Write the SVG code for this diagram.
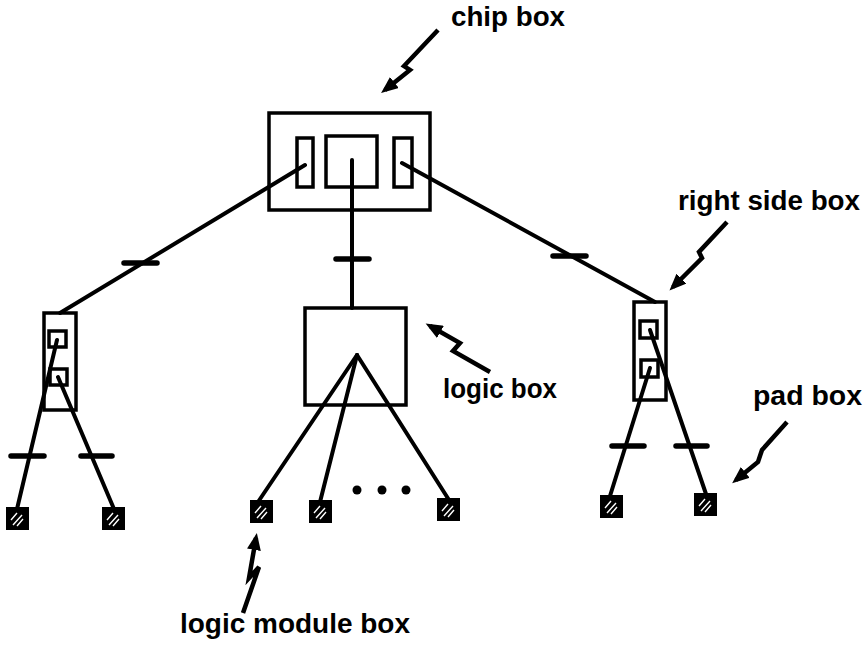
<svg xmlns="http://www.w3.org/2000/svg" width="863" height="649" viewBox="0 0 863 649">
<style>
.box{fill:none;stroke:#000;stroke-width:3.5}
.ln{fill:none;stroke:#000;stroke-width:4;stroke-linecap:round}
.tick{fill:none;stroke:#000;stroke-width:5.5;stroke-linecap:round}
.bolt{fill:none;stroke:#000;stroke-width:4.5;stroke-linejoin:miter}
.lbl{font-family:"Liberation Sans",Arial,sans-serif;font-weight:bold;font-size:27px;fill:#000}
.dot{fill:#000}
</style>
<defs>
<g id="pad">
<rect x="0" y="0" width="23" height="23" fill="#000"/>
<path d="M5,13 L11,6 M7,18 L16,8 M11,19 L17,12" stroke="#fff" stroke-width="1.4" fill="none"/>
</g>
<marker id="ah" markerWidth="18" markerHeight="14" refX="12" refY="7" orient="auto" markerUnits="userSpaceOnUse">
<path d="M0,0 L17,7 L0,14 z" fill="#000"/>
</marker>
</defs>
<g id="connectors">
<line class="ln" x1="305" y1="165" x2="60" y2="313"/>
<line class="ln" x1="352" y1="160" x2="352" y2="308"/>
<line class="ln" x1="402" y1="163" x2="655" y2="302"/>
<line class="tick" x1="124" y1="263" x2="157" y2="263"/>
<line class="tick" x1="336" y1="259" x2="369" y2="259"/>
<line class="tick" x1="553" y1="256" x2="586" y2="256"/>
<line class="ln" x1="57" y1="340" x2="17" y2="509"/>
<line class="ln" x1="58" y1="377" x2="114" y2="509"/>
<line class="tick" x1="11" y1="456" x2="44" y2="456"/>
<line class="tick" x1="81" y1="456" x2="112" y2="456"/>
<line class="ln" x1="650" y1="330" x2="706" y2="494"/>
<line class="ln" x1="650" y1="368" x2="610" y2="496"/>
<line class="tick" x1="612" y1="446" x2="644" y2="446"/>
<line class="tick" x1="676" y1="446" x2="707" y2="446"/>
<line class="ln" x1="357" y1="355" x2="258" y2="502"/>
<line class="ln" x1="357" y1="355" x2="320" y2="502"/>
<line class="ln" x1="357" y1="355" x2="449" y2="500"/>
</g>
<g id="chip-box">
<rect class="box" x="269" y="113" width="161" height="97"/>
<rect class="box" x="297" y="138" width="16" height="49"/>
<rect class="box" x="326" y="136" width="51" height="51"/>
<rect class="box" x="394" y="138" width="18" height="49"/>
</g>
<g id="left-side-box">
<rect class="box" x="44" y="313" width="32" height="97"/>
<rect class="box" x="49" y="331" width="17" height="16"/>
<rect class="box" x="50" y="369" width="17" height="16"/>
</g>
<g id="right-side-box">
<rect class="box" x="634" y="302" width="32" height="98"/>
<rect class="box" x="640" y="321" width="17" height="17"/>
<rect class="box" x="641" y="360" width="17" height="17"/>
</g>
<g id="logic-box">
<rect class="box" x="305" y="308" width="101" height="97"/>
</g>
<g id="pads">
<use href="#pad" x="6" y="507"/>
<use href="#pad" x="102" y="507"/>
<use href="#pad" x="250" y="500"/>
<use href="#pad" x="309" y="500"/>
<use href="#pad" x="437" y="498"/>
<use href="#pad" x="600" y="495"/>
<use href="#pad" x="694" y="493"/>
</g>
<g id="dots">
<circle class="dot" cx="357" cy="490" r="4.5"/>
<circle class="dot" cx="382" cy="490" r="4.5"/>
<circle class="dot" cx="406" cy="490" r="4.5"/>
</g>
<g id="labels">
<path class="bolt" d="M438,30 L404,66 L410,70 L385,90" marker-end="url(#ah)"/>
<text class="lbl" x="451" y="26" textLength="114" lengthAdjust="spacingAndGlyphs">chip box</text>
<path class="bolt" d="M727,222 L699,252 L702,258 L673,287" marker-end="url(#ah)"/>
<text class="lbl" x="678" y="210" textLength="182" lengthAdjust="spacingAndGlyphs">right side box</text>
<path class="bolt" d="M490,372 L453,351 L460,343 L430,326" marker-end="url(#ah)"/>
<text class="lbl" x="443" y="398" textLength="114" lengthAdjust="spacingAndGlyphs">logic box</text>
<path class="bolt" d="M787,422 L762,450 L758,462 L736,480" marker-end="url(#ah)"/>
<text class="lbl" x="753" y="405" textLength="109" lengthAdjust="spacingAndGlyphs">pad box</text>
<path class="bolt" d="M243,613 L259,567 L249,578 L256,538" marker-end="url(#ah)"/>
<text class="lbl" x="180" y="633" textLength="230" lengthAdjust="spacingAndGlyphs">logic module box</text>
</g>
</svg>
